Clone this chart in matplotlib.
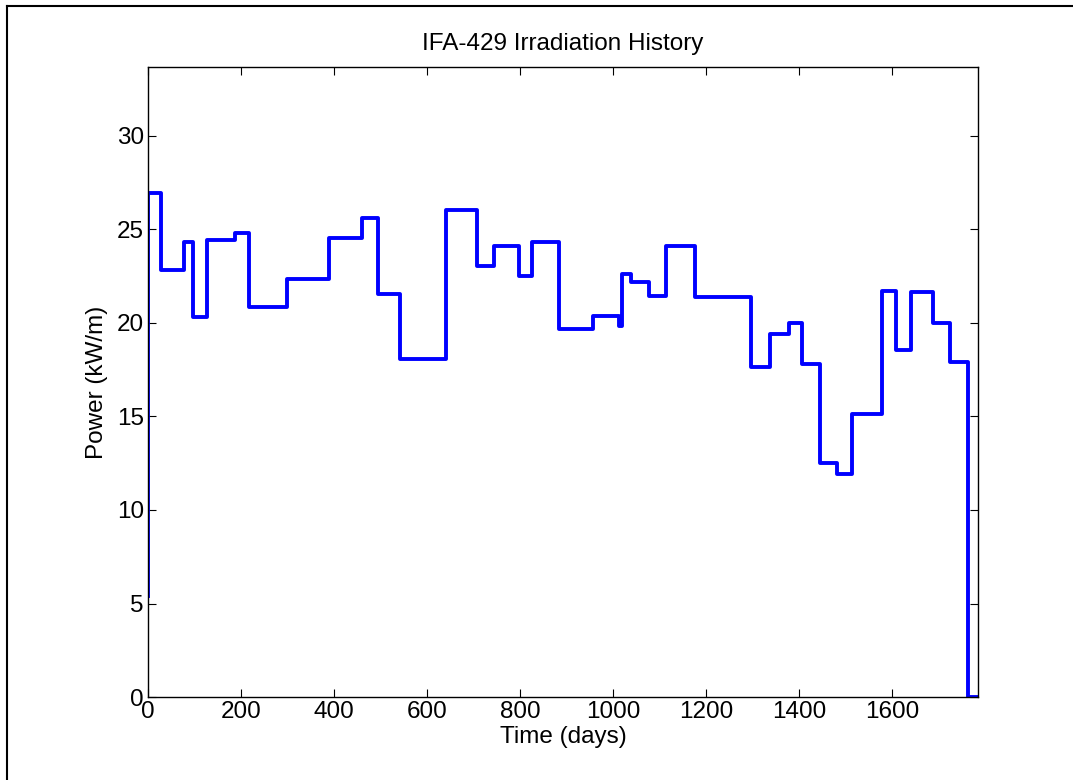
import matplotlib
matplotlib.use("Agg")
import matplotlib.pyplot as plt
from matplotlib.lines import Line2D

plt.rcParams['font.family'] = ['Liberation Sans', 'DejaVu Sans']

# step start times (days) and power level held from that time (kW/m)
times = [0, 0, 28, 77, 97, 126, 186, 218, 298, 389, 460, 495, 542, 641,
         707, 744, 798, 826, 884, 957, 1013, 1019, 1039, 1078, 1114, 1176,
         1296, 1338, 1378, 1407, 1444, 1482, 1513, 1578, 1608, 1641, 1687,
         1725, 1762, 1785]
power = [5.4, 26.95, 22.85, 24.35, 20.3, 24.44, 24.83, 20.88, 22.35, 24.52,
         25.59, 21.55, 18.05, 26.04, 23.03, 24.13, 22.53, 24.35, 19.68, 20.39,
         19.85, 22.62, 22.18, 21.46, 24.1, 21.37, 17.64, 19.42, 19.98, 17.82,
         12.51, 11.91, 15.15, 21.73, 18.53, 21.64, 20.0, 17.9, 0.0, 0.0]

x_ticks = list(range(0, 1601, 200))
y_ticks = list(range(0, 31, 5))

fig = plt.figure(figsize=(10.73, 7.80), dpi=100)
ax = fig.add_axes([0.138, 0.1064, 0.7737, 0.8077])

ax.step(times, power, where='post', color='#0000ff', lw=2.8)

ax.set_xlim(0, max(times))
ax.set_ylim(0, 1.25 * max(power))
ax.set_xticks(x_ticks)
ax.set_yticks(y_ticks)
ax.tick_params(direction='in', length=6, width=0.8, top=True, right=True,
               labelsize=17.5, pad=3)
for s in ax.spines.values():
    s.set_linewidth(1.0)

ax.set_title('IFA-429 Irradiation History', fontsize=17.5, pad=12)
ax.set_xlabel('Time (days)', fontsize=17.5, labelpad=2)
ax.set_ylabel('Power (kW/m)', fontsize=17.5, labelpad=6)

# frame left over from the screenshot crop (left and top edges)
fig.add_artist(Line2D([7 / 1073, 7 / 1073], [0, 1 - 6 / 780], color='black', lw=1.5))
fig.add_artist(Line2D([7 / 1073, 1], [1 - 6 / 780, 1 - 6 / 780], color='black', lw=1.5))

fig.savefig('out.png', dpi=100)
